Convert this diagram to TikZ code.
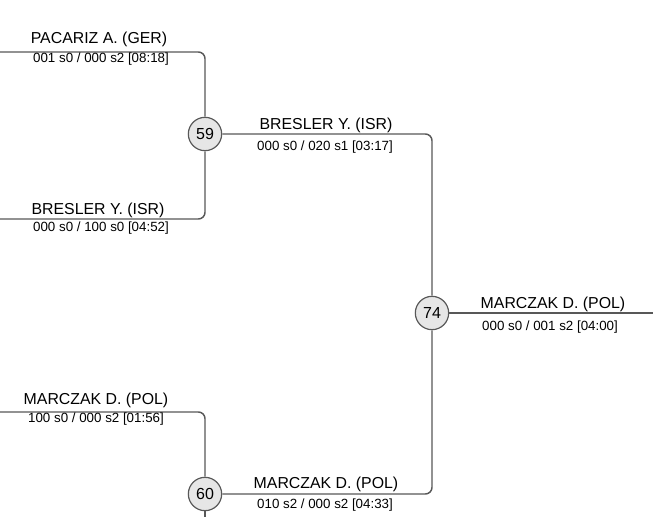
\documentclass[tikz,border=0pt]{standalone}
\usepackage{fontspec}
\setmainfont{Liberation Sans}
\usepackage{xcolor}
\usepackage{tikz}
\usetikzlibrary{positioning}
\definecolor{wire}{HTML}{585858}
\definecolor{bubble}{HTML}{E6E6E6}

\begin{document}
\begin{tikzpicture}[x=0.75pt,y=-0.75pt,
  wire/.style={draw=wire,line width=1.1pt,rounded corners=5pt},
  bout/.style={circle,draw=wire,line width=0.9pt,fill=bubble,minimum size=25pt,inner sep=0pt,font=\fontsize{12}{14}\selectfont},
  who/.style={anchor=base,inner sep=0pt,font=\fontsize{11.9}{14}\selectfont},
  score/.style={anchor=north,inner sep=0pt,font=\fontsize{10}{12}\selectfont}]
\useasboundingbox (0,0) rectangle (653,517);
\node[bout] (m59) at (205,134) {59};
\node[bout] (m74) at (432,313) {74};
\node[bout] (m60) at (205,494) {60};
\coordinate (a1) at (0,52);
\coordinate (a2) at (0,219);
\coordinate (a3) at (0,412);
\coordinate (fin) at (653,313);
\coordinate (tail) at (205,517);
\draw[wire] (a1) -| (m59);
\draw[wire] (a2) -| (m59);
\draw[wire] (m59) -| (m74);
\draw[wire] (m60) -| (m74);
\draw[wire] (a3) -| (m60);
\draw[wire] (m60) -- (tail);
\draw[wire] (m74) -- (fin);
\node[who] (n1) at (99,44) {PACARIZ A. (GER)};
\node[score] (s1) at (101,53) {001 s0 / 000 s2 [08:18]};
\node[who] (n2) at (98,214) {BRESLER Y. (ISR)};
\node[score] (s2) at (101,222) {000 s0 / 100 s0 [04:52]};
\node[who] (n3) at (96,404) {MARCZAK D. (POL)};
\node[score] (s3) at (96,413) {100 s0 / 000 s2 [01:56]};
\node[who] (n4) at (326,129) {BRESLER Y. (ISR)};
\node[score] (s4) at (325,141) {000 s0 / 020 s1 [03:17]};
\node[who] (n5) at (326,488) {MARCZAK D. (POL)};
\node[score] (s5) at (325,499) {010 s2 / 000 s2 [04:33]};
\node[who] (n6) at (553,308) {MARCZAK D. (POL)};
\node[score] (s6) at (550,321) {000 s0 / 001 s2 [04:00]};
\end{tikzpicture}
\end{document}
